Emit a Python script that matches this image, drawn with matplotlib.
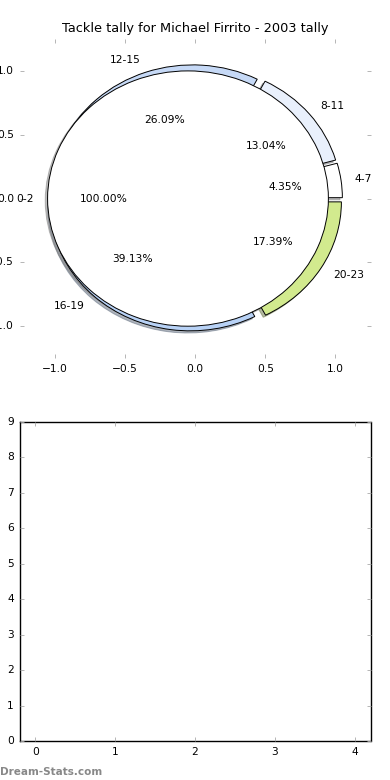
import matplotlib
matplotlib.use("Agg")
import matplotlib.pyplot as plt

plt.style.use("classic")
plt.rcParams["font.family"] = ["DejaVu Sans"]
plt.rcParams["font.size"] = 7.7

TITLE = "Tackle tally for Michael Firrito - 2003 tally"

# tackles per time bucket
BUCKETS = ["4-7", "8-11", "12-15", "16-19", "20-23"]
TALLY = [1, 3, 6, 9, 4]
COLORS = ["#ffffff", "#e9f0fc", "#c6d9f6", "#b8d2f6", "#d2ea8e"]

# the lone first bucket drawn on its own
FIRST_BUCKET = ["0-2"]
FIRST_TALLY = [1]

SHADOW = {"ox": -0.012, "oy": -0.012, "shade": 0.5}

fig = plt.figure(figsize=(3.9, 7.8), dpi=100, facecolor="white")
fig.subplots_adjust(left=0.05, right=0.95, top=0.95, bottom=0.05, hspace=0.2)

ax = fig.add_subplot(2, 1, 1)
ax.pie(TALLY, labels=BUCKETS, colors=COLORS, explode=[0.05] * len(TALLY),
       autopct="%.2f%%", shadow=SHADOW,
       wedgeprops={"linewidth": 0.7})
ax.pie(FIRST_TALLY, labels=FIRST_BUCKET, colors=["#ffffff"], explode=[0.05],
       autopct="%.2f%%", shadow=SHADOW,
       wedgeprops={"linewidth": 0.7})
ax.set_aspect("auto")
ax.set_xlim(-1.25, 1.25)
ax.set_ylim(-1.25, 1.25)
ax.set_xticks([-1.0, -0.5, 0.0, 0.5, 1.0])
ax.set_yticks([-1.0, -0.5, 0.0, 0.5, 1.0])
ax.set_frame_on(False)
ax.tick_params(direction="in", length=3, width=0.6, color="#aaaaaa",
               top=True, right=True, labelsize=7.7)
ax.set_title(TITLE, fontsize=9.3)

ax2 = fig.add_subplot(2, 1, 2)
ax2.set_xlim(-0.2, 4.2)
ax2.set_ylim(0, 9)
ax2.set_xticks(range(5))
ax2.set_yticks(range(10))
ax2.tick_params(direction="in", length=3, width=0.6, color="#aaaaaa",
                top=True, right=True, labelsize=7.7)

fig.text(0.0, 0.004, "Dream-Stats.com", color="#888888", fontsize=7.5,
         fontweight="bold", ha="left", va="bottom")

fig.savefig("out.png", dpi=100, facecolor="white")
